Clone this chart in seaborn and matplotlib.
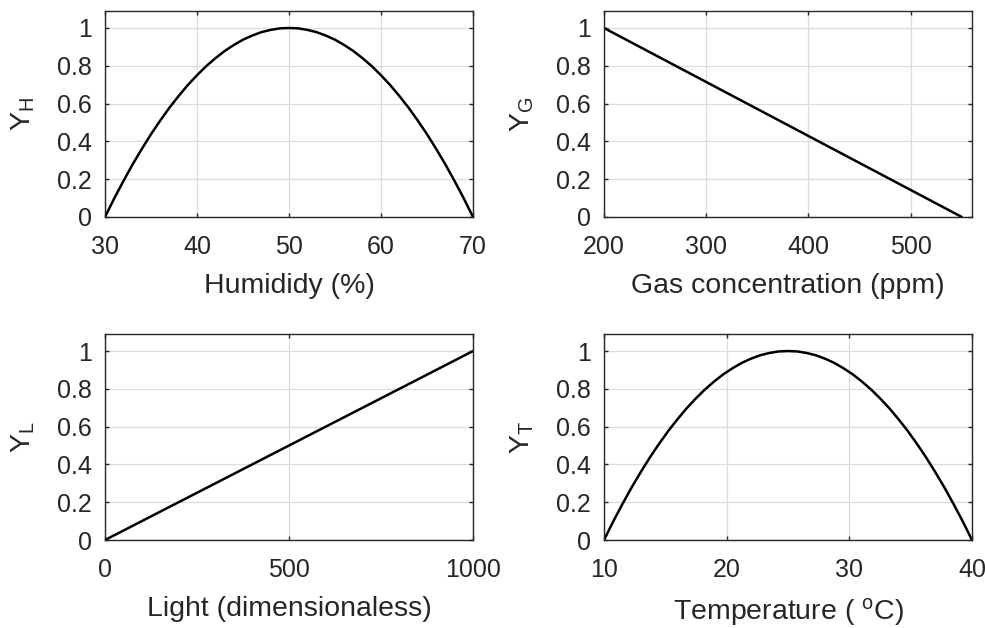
import numpy as np
import matplotlib
matplotlib.use("Agg")
import matplotlib.pyplot as plt
import seaborn as sns
import pandas as pd

# values
humidity_x = list(range(30, 71))
humidity_y = [0, 0.098, 0.19, 0.278, 0.36, 0.438, 0.51, 0.578, 0.64, 0.698,
              0.75, 0.798, 0.84, 0.878, 0.91, 0.938, 0.96, 0.978, 0.99, 0.998,
              1.0,
              0.998, 0.99, 0.978, 0.96, 0.938, 0.91, 0.878, 0.84, 0.798, 0.75,
              0.698, 0.64, 0.578, 0.51, 0.438, 0.36, 0.278, 0.19, 0.098, 0]

gas_x = [200, 550]
gas_y = [1.0, 0.0]

light_x = [0, 1000]
light_y = [0.0, 1.0]

temp_x = [10 + 0.75 * i for i in range(41)]
temp_y = [0, 0.098, 0.19, 0.278, 0.36, 0.438, 0.51, 0.578, 0.64, 0.698,
          0.75, 0.798, 0.84, 0.878, 0.91, 0.938, 0.96, 0.978, 0.99, 0.998,
          1.0,
          0.998, 0.99, 0.978, 0.96, 0.938, 0.91, 0.878, 0.84, 0.798, 0.75,
          0.698, 0.64, 0.578, 0.51, 0.438, 0.36, 0.278, 0.19, 0.098, 0]

y_ticks = [0, 0.2, 0.4, 0.6, 0.8, 1]
y_ticklabels = ["0", "0.2", "0.4", "0.6", "0.8", "1"]

sns.set_style("ticks")
plt.rcParams['font.family'] = ['Liberation Sans', 'DejaVu Sans']
plt.rcParams['mathtext.fontset'] = 'custom'
plt.rcParams['mathtext.rm'] = 'Liberation Sans'
plt.rcParams['mathtext.it'] = 'Liberation Sans'

fig = plt.figure(figsize=(9.85, 6.28), dpi=100)

panels = [
    (humidity_x, humidity_y, (30, 70), [30, 40, 50, 60, 70], "Humididy (%)", "Y$_\\mathregular{H}$",
     [0.1066, 0.6545, 0.3736, 0.328]),
    (gas_x, gas_y, (200, 560), [200, 300, 400, 500], "Gas concentration (ppm)", "Y$_\\mathregular{G}$",
     [0.6132, 0.6545, 0.3736, 0.328]),
    (light_x, light_y, (0, 1000), [0, 500, 1000], "Light (dimensionaless)", "Y$_\\mathregular{L}$",
     [0.1066, 0.1401, 0.3736, 0.328]),
    (temp_x, temp_y, (10, 40), [10, 20, 30, 40], "Temperature ( $^\\mathregular{o}$C)", "Y$_\\mathregular{T}$",
     [0.6132, 0.1401, 0.3736, 0.328]),
]

for xs, ys, xlim, xticks, xlab, ylab, rect in panels:
    ax = fig.add_axes(rect)
    df = pd.DataFrame({"x": xs, "y": ys})
    sns.lineplot(data=df, x="x", y="y", ax=ax, color="black", linewidth=1.8,
                 sort=False, estimator=None)
    ax.set_xlim(*xlim)
    ax.set_ylim(0, 1.09)
    ax.set_xticks(xticks)
    ax.set_yticks(y_ticks)
    ax.set_yticklabels(y_ticklabels)
    ax.grid(True, color="#dcdcdc", linewidth=0.9)
    ax.set_axisbelow(True)
    for s in ax.spines.values():
        s.set_visible(True)
        s.set_color("#262626")
        s.set_linewidth(1.0)
    ax.tick_params(axis="both", direction="in", length=3, width=1.0, colors="#262626",
                   labelsize=18, top=True, right=True, labelcolor="#262626")
    ax.tick_params(axis="x", pad=13)
    ax.tick_params(axis="y", pad=9.5)
    ax.set_xlabel(xlab, fontsize=20.5, color="#262626", labelpad=10)
    ax.set_ylabel(ylab, fontsize=20.5, color="#262626", labelpad=14)

fig.savefig("out.png", dpi=100)
